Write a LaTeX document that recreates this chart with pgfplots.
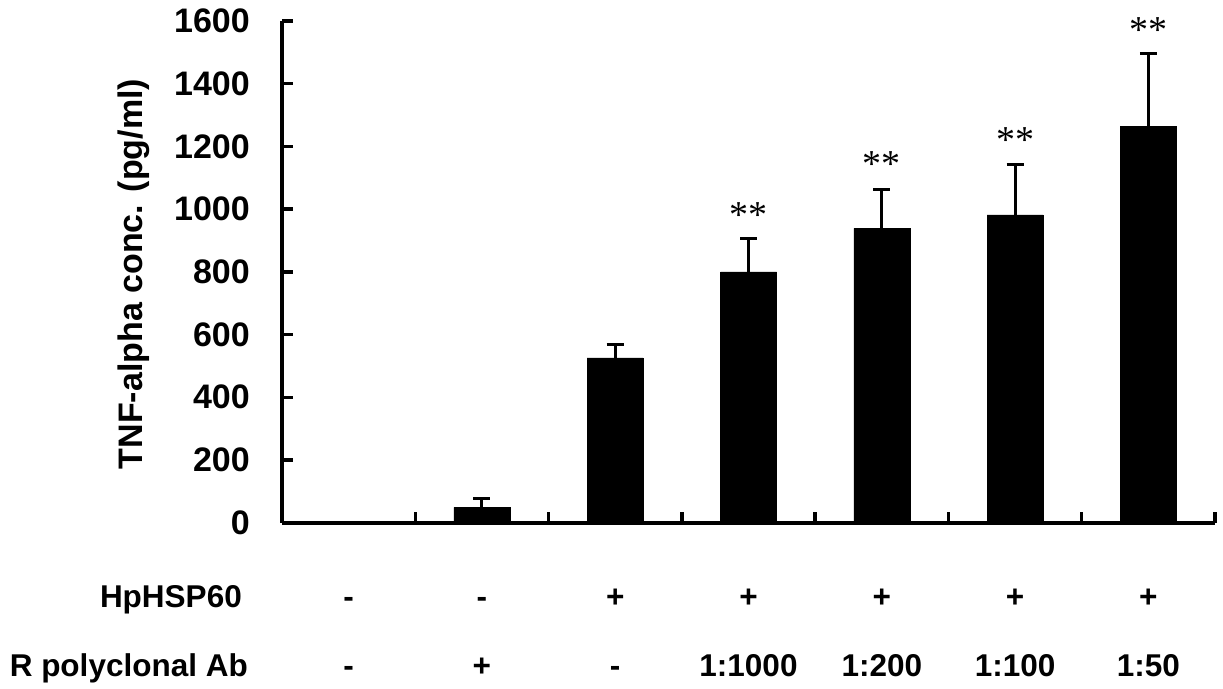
\documentclass[border=0pt]{standalone}
\usepackage{pgfplots}
\pgfplotsset{compat=1.18}
\usepackage{fontspec}
\setmainfont{Liberation Sans}
\newfontfamily\serifast{Liberation Serif}
\pgfplotstableread{
x y e
1 49 27
2 526 42
3 800 105
4 939 124
5 982 161
6 1263 232
}\datatable
\begin{document}
\begin{tikzpicture}
\begin{axis}[
  at={(282pt,165.3pt)}, anchor=south west,
  scale only axis, width=933pt, height=501.7pt,
  xmin=-0.5, xmax=6.5, ymin=0, ymax=1600,
  axis lines*=left,
  axis line style={-, line width=4pt, black},
  xtick={0.5,1.5,2.5,3.5,4.5,5.5,6.5}, xticklabels={},
  ytick={0,200,...,1600},
  xtick pos=bottom, ytick pos=left,
  major tick length=11pt,
  tick style={line width=3.5pt, black},
  /pgf/number format/assume math mode=true,
  /pgf/number format/1000 sep={},
  yticklabel style={font=\fontsize{34}{40}\selectfont\bfseries, inner sep=0pt, xshift=-32pt},
  clip=false,
  tick align=inside,
]
\addplot[ybar, bar width=56pt, fill=black, draw=black,
  error bars/.cd, y dir=plus, y explicit,
  error bar style={line width=3pt, black},
  error mark options={rotate=90, mark size=8.5pt, line width=3pt, black}]
  table[x=x, y=y, y error=e] {\datatable};
\foreach \xx/\yy in {3/995,4/1157,5/1236,6/1587}{
  \edef\tmp{\noexpand\node[anchor=base, yshift=-17pt, inner sep=0pt, font=\noexpand\serifast\noexpand\fontsize{38}{44}\noexpand\selectfont] at (axis cs:\xx,\yy) {**};}
  \tmp
}
\foreach \xx/\lab in {0/-,1/-,2/+,3/+,4/+,5/+,6/+}{
  \edef\tmp{\noexpand\node[anchor=base, yshift=-85pt, inner sep=0pt, font=\noexpand\fontsize{31.5}{36}\noexpand\selectfont\noexpand\bfseries] at (axis cs:\xx,0) {\lab};}
  \tmp
}
\foreach \xx/\lab in {0/-,1/+,2/-,3/1:1000,4/1:200,5/1:100,6/1:50}{
  \edef\tmp{\noexpand\node[anchor=base, yshift=-154pt, inner sep=0pt, font=\noexpand\fontsize{31.5}{36}\noexpand\selectfont\noexpand\bfseries] at (axis cs:\xx,0) {\lab};}
  \tmp
}
\end{axis}
\node[anchor=base east, inner sep=0pt, font=\fontsize{31.5}{36}\selectfont\bfseries] at (242pt,80.3pt) {HpHSP60};
\node[anchor=base east, inner sep=0pt, font=\fontsize{31.5}{36}\selectfont\bfseries] at (248pt,11.3pt) {R polyclonal Ab};
\node[rotate=90, inner sep=0pt, font=\fontsize{34}{40}\selectfont\bfseries] at (134pt,414pt) {TNF-alpha conc. (pg/ml)};
\pgfresetboundingbox
\useasboundingbox (0,0) rectangle (1223pt,688pt);
\end{tikzpicture}
\end{document}
